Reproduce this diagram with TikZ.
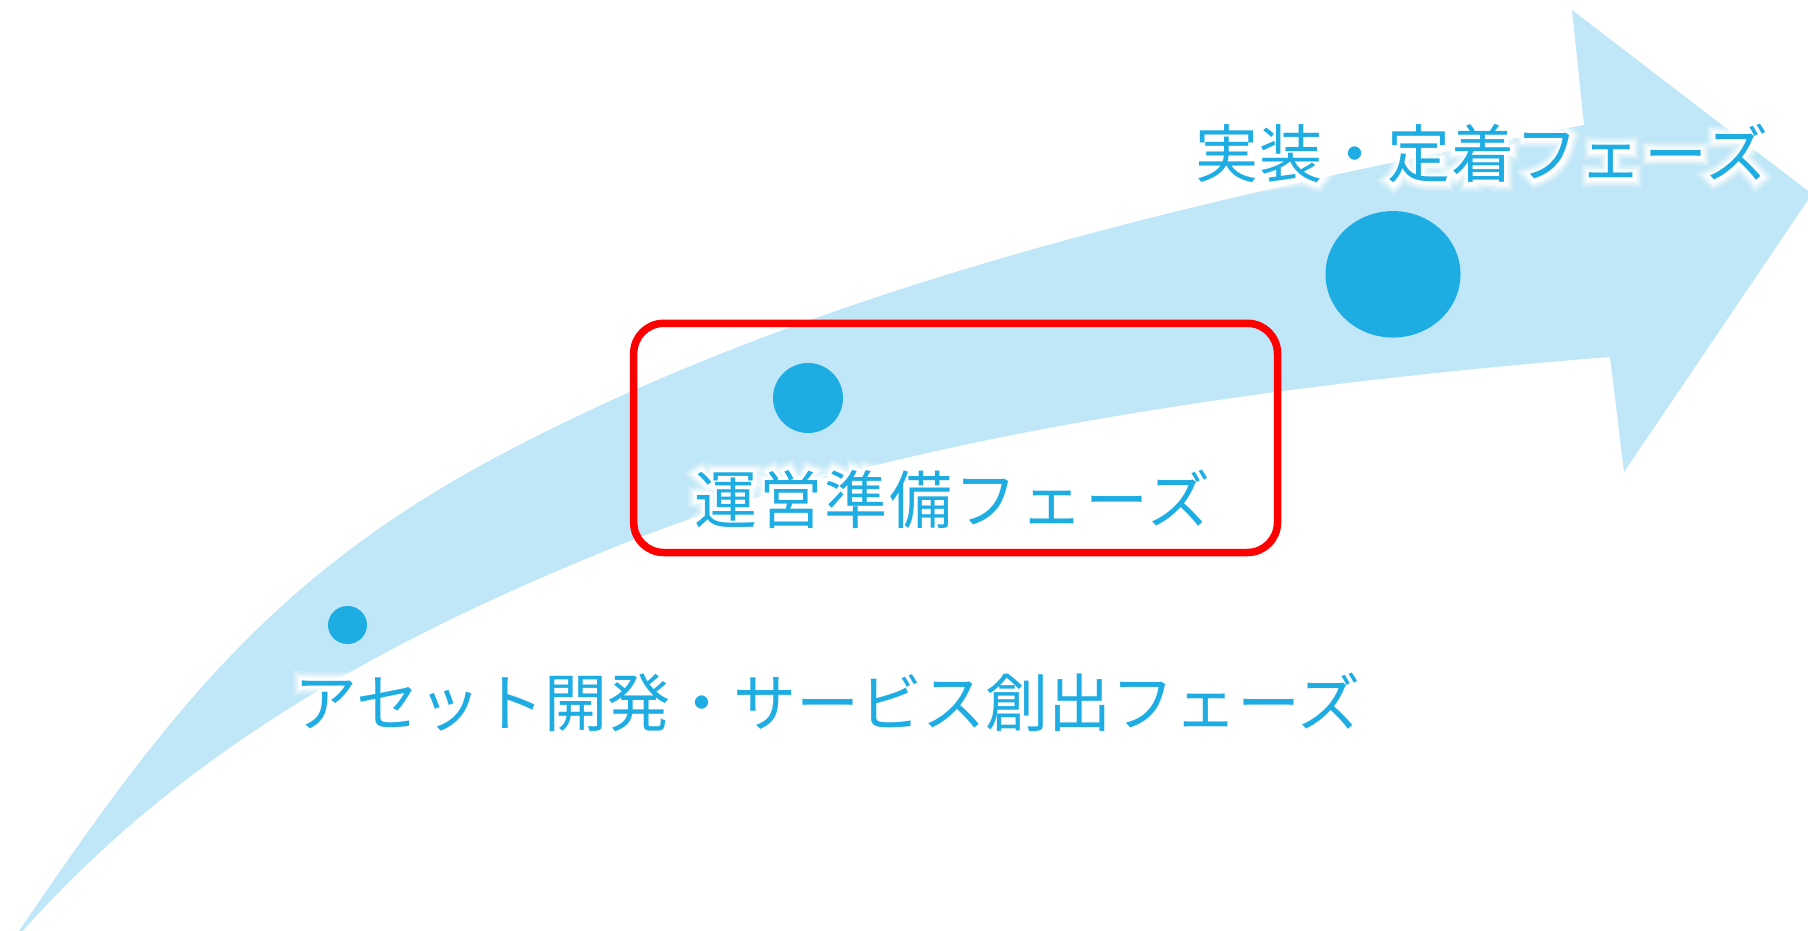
\documentclass[tikz,border=0pt]{standalone}
\usepackage{fontspec}
\newfontfamily\jp{Noto Sans CJK JP}
\usetikzlibrary{shapes.geometric}
\definecolor{arrowblue}{RGB}{192,231,247}
\definecolor{dotblue}{RGB}{30,173,227}
\definecolor{boxred}{RGB}{255,0,0}
\tikzset{
  arrowfill/.style={fill=arrowblue, draw=none},
  dot/.style={ellipse, fill=dotblue, draw=none, inner sep=0pt},
  redbox/.style={draw=boxred, line width=7.5pt, rounded corners=30pt, inner sep=0pt, fill=none},
  phase/.style={text=dotblue, anchor=base west, inner sep=0pt},
}
\newcommand{\glowlabel}[4]{%
  \node[phase, text=white, opacity=0.22, font=\jp\fontsize{63}{70}\selectfont\addfontfeature{LetterSpace=#3,FakeBold=28}] at (#2) {#4};
  \node[phase, text=white, opacity=0.35, font=\jp\fontsize{63}{70}\selectfont\addfontfeature{LetterSpace=#3,FakeBold=21}] at (#2) {#4};
  \node[phase, text=white, opacity=0.6, font=\jp\fontsize{63}{70}\selectfont\addfontfeature{LetterSpace=#3,FakeBold=14}] at (#2) {#4};
  \node[phase, text=white, font=\jp\fontsize{63}{70}\selectfont\addfontfeature{LetterSpace=#3,FakeBold=8}] at (#2) {#4};
  \node[phase, font=\jp\fontsize{63}{70}\selectfont\addfontfeature{LetterSpace=#3}] (#1) at (#2) {#4};
}
\begin{document}
\begin{tikzpicture}[x=1pt,y=-1pt]
\useasboundingbox (0,0) rectangle (1808,931);
\begin{scope}
\clip (0,0) rectangle (1808,931);
\fill[arrowfill] (17,934) .. controls (163,719) and (270,577) .. (500,455)
  .. controls (827,282) and (1220,193) .. (1584,125)
  -- (1572,10) -- (1812,194) -- (1624,472) -- (1610,357)
  .. controls (1271,384) and (877,438) .. (600,553)
  .. controls (378,644) and (179,754) .. (20,934)
  -- cycle;
\end{scope}
\node[dot, minimum width=39pt, minimum height=38pt] (d1) at (347.5,625) {};
\node[dot, minimum width=70pt, minimum height=70pt] (d2) at (808,398) {};
\node[dot, minimum width=135pt, minimum height=126.5pt] (d3) at (1393,274.3) {};
\node[redbox, minimum width=643.8pt, minimum height=229.2pt] (box) at (955.6,437.9) {};
\coordinate (p1) at (294,726);
\coordinate (p2) at (694,523);
\coordinate (p3) at (1195,178);
\glowlabel{t1}{p1}{0}{アセット開発・サービス創出フェーズ}
\glowlabel{t2}{p2}{3.5}{運営準備フェーズ}
\glowlabel{t3}{p3}{1.8}{実装・定着フェーズ}
\end{tikzpicture}
\end{document}
